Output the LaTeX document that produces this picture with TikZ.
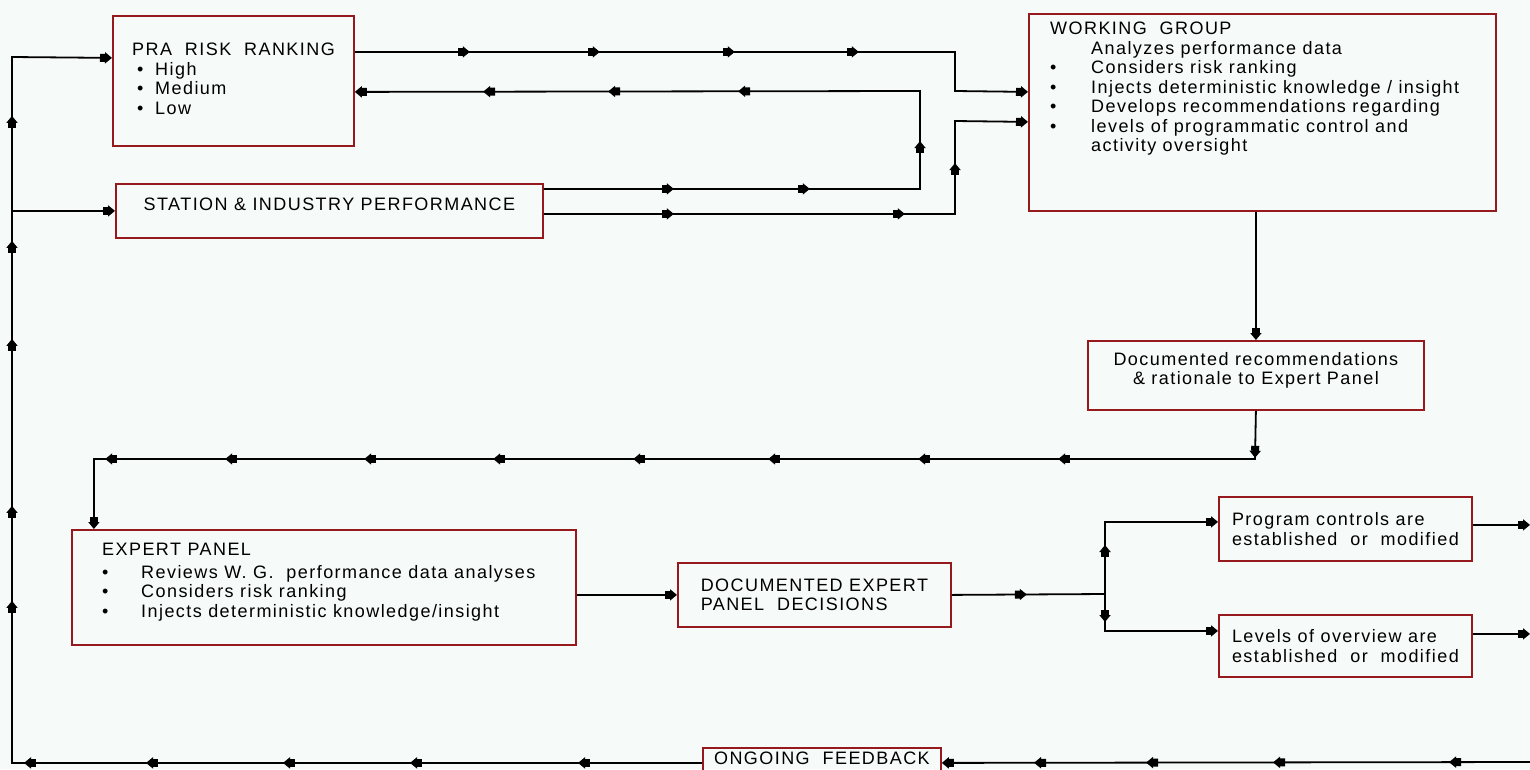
\documentclass[tikz,border=0pt]{standalone}
\usepackage{fontspec}
\setmainfont{Liberation Sans}[LetterSpace=8]
\usepackage{xcolor}
\usetikzlibrary{arrows.meta,decorations.markings}
\definecolor{boxred}{RGB}{150,25,30}
\definecolor{paper}{RGB}{246,250,248}
\newcommand{\bl}[1]{\makebox[#1][l]{\textbullet}}

\begin{document}
\begin{tikzpicture}[
    x=1pt, y=-1pt,
    font=\fontsize{18}{19.5}\selectfont,
    blk/.tip={Square[length=5pt,width=8pt] Triangle[length=7pt,width=11pt]},
    box/.style={draw=boxred, line width=1.8pt, anchor=north west, inner sep=0pt},
    txt/.style={align=left, anchor=north west, inner sep=0pt},
    flow/.style={line width=1.8pt, decoration={markings}, postaction={decorate}},
    tipat/.style={decoration={mark=at position #1 with {\arrow{blk}}}}
]
\useasboundingbox (0,0) rectangle (1530,769);
\fill[paper] (0,0) rectangle (1530,769);

% boxes
\node[box, minimum width=241pt, minimum height=130pt] (pra) at (112,15) {};
\node[txt] (pratext) at (132,43) {PRA\ \ RISK\ \ RANKING\\
    \hspace*{5pt}\bl{18pt}High\\
    \hspace*{5pt}\bl{18pt}Medium\\
    \hspace*{5pt}\bl{18pt}Low};
\node[box, minimum width=427pt, minimum height=54pt] (sta) at (115,183) {};
\node[inner sep=0pt] (statext) at ([yshift=7pt]sta.center) {STATION \& INDUSTRY PERFORMANCE};
\node[box, minimum width=467pt, minimum height=197pt] (wg) at (1028,13) {};
\node[txt] (wgtext) at (1050,22) {WORKING\ \ GROUP\\
    \makebox[41pt]{}Analyzes performance data\\
    \bl{41pt}Considers risk ranking\\
    \bl{41pt}Injects deterministic knowledge / insight\\
    \bl{41pt}Develops recommendations regarding\\
    \bl{41pt}levels of programmatic control and\\
    \makebox[41pt]{}activity oversight};
\node[box, minimum width=336pt, minimum height=69pt] (dr) at (1087,340) {};
\node[align=center, inner sep=0pt] (drtext) at ([yshift=5pt]dr.center) {Documented recommendations\\ \& rationale to Expert Panel};
\node[box, minimum width=504pt, minimum height=115pt] (ep) at (71,529) {};
\node[txt] (eptext) at (102,543) {EXPERT PANEL\\[3pt]
    \bl{39pt}Reviews W. G.\ \ performance data analyses\\
    \bl{39pt}Considers risk ranking\\
    \bl{39pt}Injects deterministic knowledge/insight};
\node[box, minimum width=273pt, minimum height=64pt, align=left] (dd) at (677,562) {DOCUMENTED EXPERT\\ PANEL\ \ DECISIONS};
\node[box, minimum width=253pt, minimum height=64pt, align=left] (pc) at (1218,496) {Program controls are\\ established\ \ or\ \ modified};
\node[box, minimum width=253pt, minimum height=62pt, align=left] (lv) at (1218,614) {Levels of overview are\\ established\ \ or\ \ modified};
\node[box, minimum width=238pt, minimum height=30pt] (fb) at (702,747) {};
\node[inner sep=0pt] (fbtext) at ([yshift=5pt]fb.center) {ONGOING\ \ FEEDBACK};

% turning points
\coordinate (loop) at (12,57);
\coordinate (j1) at (955,91);
\coordinate (j2) at (920,91);
\coordinate (j3) at (955,121);
\coordinate (drop) at (1255,459);
\coordinate (split) at (1105,594);
\coordinate (edge) at (1530,762);

% connectors
\draw[flow, -blk, tipat/.list={124pt,292pt,419pt,556pt,678pt,852pt,947pt,1114pt,1212pt,1337pt}]
    (fb.west) -| (loop) -- ([yshift=23pt]pra.west);
\draw[flow, -blk] (loop |- sta.west) -- (sta.west);
\draw[flow, -blk, tipat/.list={115pt,245pt,380pt,504pt}]
    ([yshift=29pt]pra.east) -| (j1) -- ([yshift=20.5pt]wg.west);
\draw[flow, -blk, tipat/.list={130pt,266pt,424pt,656pt,786pt,911pt}]
    ([yshift=22pt]sta.east) -| (j2) -- ([yshift=-11pt]pra.east);
\draw[flow, -blk, tipat/.list={130pt,361pt,462pt}]
    ([yshift=-3pt]sta.east) -| (j3) -- ([yshift=-9.5pt]wg.west);
\draw[flow, -blk] (wg.south -| dr.north) -- (dr.north);
\draw[flow, -blk, tipat/.list={47pt,245pt,385pt,535pt,670pt,810pt,939pt,1078pt,1198pt}]
    (dr.south) -- (drop) -| ([xshift=-230pt]ep.north);
\draw[flow, -blk] (ep.east |- dd.west) -- (dd.west);
\draw[flow, tipat=75pt] (dd.east) -- (split);
\draw[flow, -blk, tipat=49pt] (split) |- ([yshift=7pt]pc.west);
\draw[flow, -blk, tipat=28pt] (split) |- ([yshift=15pt]lv.west);
\draw[flow, -blk] ([yshift=4pt]pc.east) -- ([yshift=4pt]pc.east -| edge);
\draw[flow, -blk] ([yshift=12pt]lv.east) -- ([yshift=12pt]lv.east -| edge);
\draw[flow, -blk, tipat/.list={81pt,257pt,384pt,496pt}] (edge) -- (fb.east);
\end{tikzpicture}
\end{document}
